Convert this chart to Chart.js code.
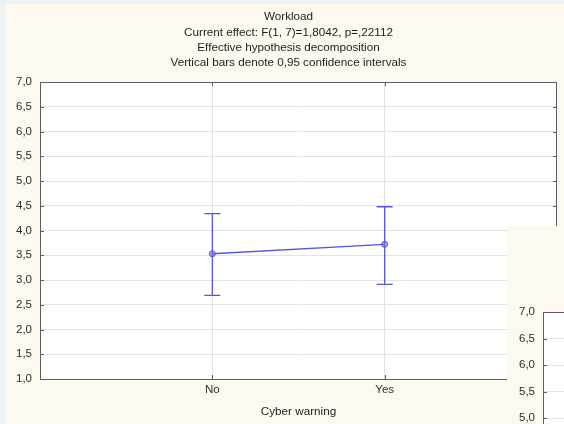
<!DOCTYPE html>
<html>
<head>
<meta charset="utf-8">
<script src="https://cdn.jsdelivr.net/npm/chart.js@4.4.0/dist/chart.umd.min.js"></script>
<style>
html, body { margin: 0; padding: 0; background: #eef3f5; width: 564px; height: 424px; overflow: hidden; }
#panel { position: absolute; left: 6px; top: 4px; width: 558px; height: 420px; background: #fef9ee; }
#chart-main { position: absolute; left: 0; top: 0; }
#inset { position: absolute; left: 507px; top: 226px; width: 57px; height: 198px; background: #fef9ee; overflow: hidden; }
#chart-inset { position: absolute; left: 0; top: 0; }
</style>
</head>
<body>
<div id="panel"></div>
<canvas id="chart-main" width="564" height="424"></canvas>
<div id="inset"><canvas id="chart-inset" width="300" height="460"></canvas></div>
<script>
// chart data
var categories = ['No', 'Yes'];
var means = [3.53, 3.72];
var lowerCI = [2.69, 2.91];
var upperCI = [4.34, 4.48];
var titleLines = [
	'Workload',
	'Current effect: F(1, 7)=1,8042, p=,22112',
	'Effective hypothesis decomposition',
	'Vertical bars denote 0,95 confidence intervals'
];
var xTitle = 'Cyber warning';
var yMin = 1, yMax = 7, yStep = 0.5;

var FONT = '"Liberation Sans", Arial, sans-serif';
var BLUE = '#5656dc';

var fmt = function(v) {
	return v.toFixed(1).replace('.', ',');
};

// white plot area + dark frame + inward tick marks
var framePlugin = {
	id: 'frame',
	beforeDraw: function(chart) {
		var a = chart.chartArea, ctx = chart.ctx;
		ctx.save();
		ctx.fillStyle = '#ffffff';
		ctx.fillRect(a.left, a.top, a.right - a.left, a.bottom - a.top);
		ctx.restore();
	},
	afterDraw: function(chart) {
		var a = chart.chartArea, ctx = chart.ctx;
		ctx.save();
		ctx.strokeStyle = '#5e5e5e';
		ctx.lineWidth = 1;
		ctx.strokeRect(a.left + 0.5, a.top + 0.5, a.right - a.left - 1, a.bottom - a.top);
		var ys = chart.scales.y;
		ctx.beginPath();
		ys.ticks.forEach(function(t) {
			var py = Math.round(ys.getPixelForValue(t.value)) + 0.5;
			ctx.moveTo(a.left, py); ctx.lineTo(a.left + 4, py);
			ctx.moveTo(a.right - 4, py); ctx.lineTo(a.right, py);
		});
		var xs = chart.scales.x;
		if (xs && xs.options.display) {
			xs.ticks.forEach(function(t) {
				var px = Math.round(xs.getPixelForValue(t.value)) + 0.5;
				ctx.moveTo(px, a.bottom); ctx.lineTo(px, a.bottom - 4);
				ctx.moveTo(px, a.top); ctx.lineTo(px, a.top + 4);
			});
		}
		ctx.stroke();
		ctx.restore();
	}
};

// confidence interval whiskers
var errorBarPlugin = {
	id: 'errorBars',
	beforeDatasetsDraw: function(chart) {
		var ctx = chart.ctx, xs = chart.scales.x, ys = chart.scales.y;
		ctx.save();
		ctx.strokeStyle = BLUE;
		ctx.lineWidth = 1.3;
		for (var i = 0; i < categories.length; i++) {
			var px = xs.getPixelForValue(i + 1);
			var pl = ys.getPixelForValue(lowerCI[i]);
			var pu = ys.getPixelForValue(upperCI[i]);
			ctx.beginPath();
			ctx.moveTo(px, pl); ctx.lineTo(px, pu);
			ctx.moveTo(px - 8, pl); ctx.lineTo(px + 8, pl);
			ctx.moveTo(px - 8, pu); ctx.lineTo(px + 8, pu);
			ctx.stroke();
		}
		ctx.restore();
	}
};

// multi-line heading
var headingPlugin = {
	id: 'heading',
	afterDraw: function(chart) {
		var ctx = chart.ctx;
		ctx.save();
		ctx.font = '11.7px ' + FONT;
		ctx.fillStyle = '#1e1e1e';
		ctx.textAlign = 'center';
		ctx.textBaseline = 'middle';
		titleLines.forEach(function(line, i) {
			ctx.fillText(line, 288.5, 17 + i * 15.4);
		});
		ctx.restore();
	}
};

var mainConfig = {
	type: 'line',
	data: {
		datasets: [{
			data: means.map(function(m, i) { return {x: i + 1, y: m}; }),
			borderColor: BLUE,
			borderWidth: 1.3,
			pointRadius: 3,
			pointBackgroundColor: 'rgba(110,110,235,0.55)',
			pointBorderColor: BLUE,
			pointBorderWidth: 1,
			tension: 0
		}]
	},
	options: {
		responsive: false,
		animation: false,
		layout: { padding: { top: 82, right: 7, left: 0, bottom: 0 } },
		plugins: { legend: { display: false }, tooltip: { enabled: false } },
		scales: {
			x: {
				type: 'linear',
				min: 0,
				max: categories.length + 1,
				afterBuildTicks: function(scale) {
					scale.ticks = categories.map(function(c, i) { return {value: i + 1}; });
				},
				afterFit: function(scale) { scale.height = 45; },
				ticks: {
					padding: 4,
					color: '#2e2e2e',
					font: { family: FONT, size: 11.5 },
					callback: function(v) { return categories[v - 1] || ''; }
				},
				grid: { color: '#e2e2e2', drawTicks: false },
				border: { display: false },
				title: {
					display: true,
					text: xTitle,
					color: '#1e1e1e',
					font: { family: FONT, size: 11.7 },
					padding: { top: 0, bottom: 5 }
				}
			},
			y: {
				min: yMin,
				max: yMax,
				afterFit: function(scale) { scale.width = 40; },
				ticks: {
					stepSize: yStep,
					padding: 8,
					color: '#2e2e2e',
					font: { family: FONT, size: 11.5 },
					callback: function(v) { return fmt(v); }
				},
				grid: { color: '#e4e4e4', drawTicks: false },
				border: { display: false }
			}
		}
	},
	plugins: [framePlugin, errorBarPlugin, headingPlugin]
};

// partially visible second chart panel in the corner
var insetConfig = {
	type: 'line',
	data: { datasets: [] },
	options: {
		responsive: false,
		animation: false,
		layout: { padding: { top: 86, right: 0, left: 0, bottom: 56 } },
		plugins: { legend: { display: false }, tooltip: { enabled: false } },
		scales: {
			x: { type: 'linear', display: false, min: 0, max: 3 },
			y: {
				min: yMin,
				max: yMax,
				afterFit: function(scale) { scale.width = 36; },
				ticks: {
					stepSize: yStep,
					padding: 8,
					color: '#2e2e2e',
					font: { family: FONT, size: 11.5 },
					callback: function(v) { return fmt(v); }
				},
				grid: { color: '#e4e4e4', drawTicks: false },
				border: { display: false }
			}
		}
	},
	plugins: [framePlugin]
};

window.onload = function() {
	new Chart(document.getElementById('chart-main').getContext('2d'), mainConfig);
	new Chart(document.getElementById('chart-inset').getContext('2d'), insetConfig);
};
</script>
</body>
</html>
